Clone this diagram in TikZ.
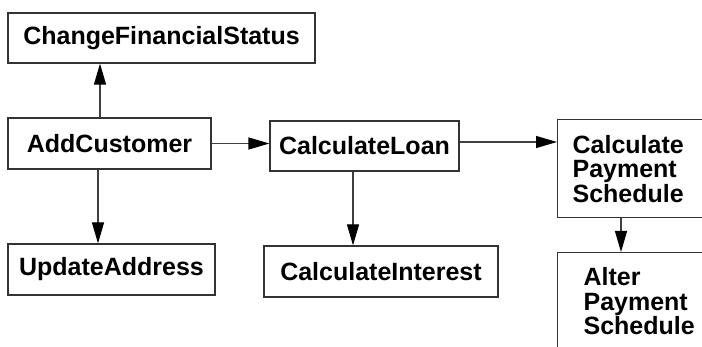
\documentclass[tikz,border=0pt]{standalone}
\usepackage{fontspec}
\setmainfont{Liberation Sans}
\usetikzlibrary{arrows.meta}
\tikzset{
  box/.style={draw=black!80, line width=1.2pt, inner sep=0pt,
    font=\fontsize{25pt}{24.5pt}\selectfont\bfseries},
  arr/.style={draw=black!75, line width=1.2pt,
    -{Triangle[length=21pt,width=12pt,fill=black,color=black]}}
}
\begin{document}
\begin{tikzpicture}[x=1pt,y=-1pt]
\useasboundingbox (0,0) rectangle (702,347);
\clip (0,0) rectangle (702,347);
\fill[white] (0,0) rectangle (702,347);
\node[box, minimum width=307pt, minimum height=50pt] (cfs) at (161.5,38) {ChangeFinancialStatus};
\node[box, minimum width=203pt, minimum height=51pt] (add) at (109.5,143.5) {AddCustomer};
\node[box, minimum width=207pt, minimum height=51pt] (upd) at (111.5,269.5) {UpdateAddress};
\node[box, minimum width=189pt, minimum height=50pt] (loan) at (364.5,146) {CalculateLoan};
\node[box, minimum width=234pt, minimum height=51pt] (int) at (381,271.5) {CalculateInterest};
\node[box, anchor=north west, align=left, text width=140pt, inner xsep=15pt,
      minimum height=98pt] (cps) at (557,119) {Calculate\\Payment\\Schedule};
\node[box, anchor=north west, align=left, text width=130pt, inner xsep=26pt,
      inner ysep=15pt] (aps) at (557,252) {Alter\\Payment\\Schedule\strut};
\draw[arr] ([xshift=-9.5pt]add.north) -- ([xshift=-9.5pt]add.north |- cfs.south);
\draw[arr] ([xshift=-11.5pt]add.south) -- ([xshift=-11.5pt]add.south |- upd.north);
\draw[arr] (add.east) -- (add.east -| loan.west);
\draw[arr] ([yshift=4pt]loan.east) -- ([yshift=4pt]loan.east -| cps.west);
\draw[arr] ([xshift=-11.5pt]loan.south) -- ([xshift=-11.5pt]loan.south |- int.north);
\draw[arr] ([xshift=64pt]cps.south west) -- ([xshift=64pt]cps.south west |- aps.north);
\end{tikzpicture}
\end{document}
